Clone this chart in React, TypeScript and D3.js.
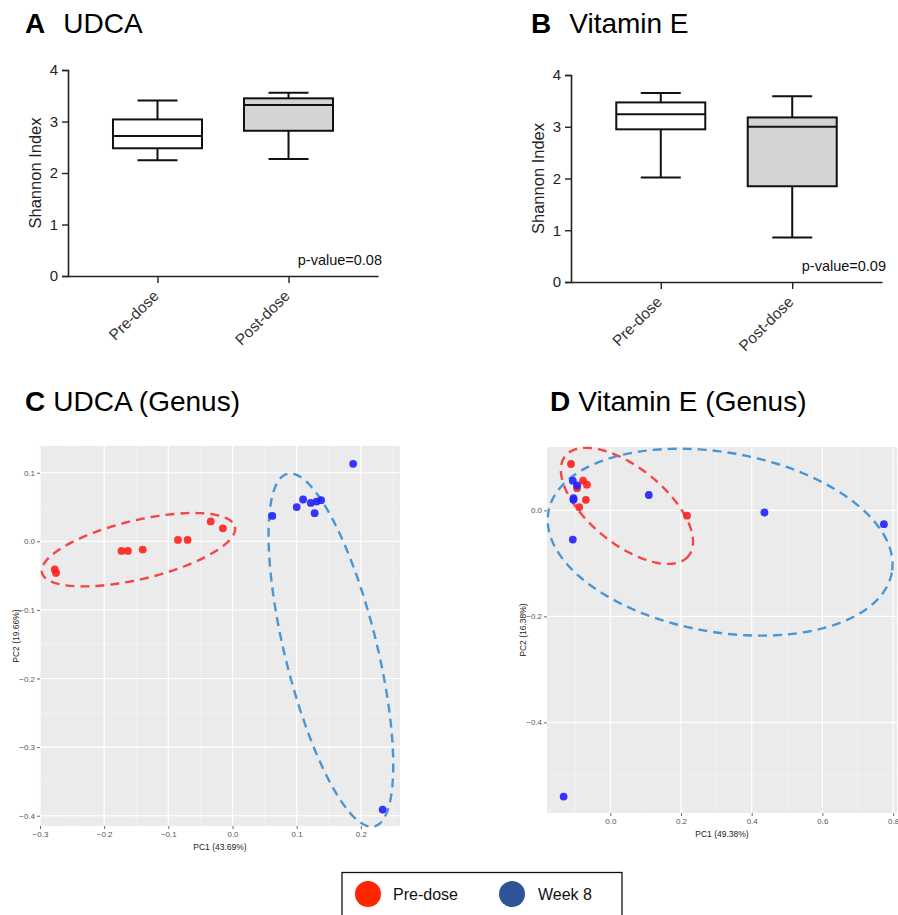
import React, { useEffect, useRef } from "react";
import * as d3 from "d3";

// box plot summaries: [min, q1, median, q3, max]
const boxGroups = ["Pre-dose", "Post-dose"];
const udcaBox = [
  [2.25, 2.48, 2.72, 3.04, 3.41],
  [2.27, 2.82, 3.32, 3.45, 3.56],
];
const vitEBox = [
  [2.02, 2.95, 3.24, 3.47, 3.65],
  [0.86, 1.85, 3.0, 3.18, 3.59],
];
const shannonTicks = [0, 1, 2, 3, 4];

// PCoA points [PC1, PC2]
const udcaPre = [
  [-0.277, -0.041], [-0.275, -0.046], [-0.173, -0.014], [-0.163, -0.014],
  [-0.14, -0.012], [-0.085, 0.002], [-0.07, 0.002], [-0.034, 0.029], [-0.015, 0.019],
];
const udcaWeek8 = [
  [0.062, 0.037], [0.1, 0.05], [0.11, 0.061], [0.122, 0.056], [0.128, 0.041],
  [0.131, 0.058], [0.138, 0.06], [0.188, 0.113], [0.234, -0.391],
];
const vitEPre = [
  [-0.111, 0.0875], [-0.077, 0.056], [-0.066, 0.0485], [-0.094, 0.042],
  [-0.069, 0.02], [-0.088, 0.006], [0.217, -0.01],
];
const vitEWeek8 = [
  [-0.106, 0.056], [-0.094, 0.047], [-0.104, 0.023], [-0.104, 0.02], [-0.106, -0.055],
  [0.109, 0.029], [0.436, -0.004], [0.774, -0.026], [-0.132, -0.54],
];

// ellipses: centre, two conjugate semi-axes (data units)
const udcaPreEllipse = { c: [-0.1466, -0.0122], u: [0.1503, 0.0335], v: [0.0106, -0.0417] };
const udcaWk8Ellipse = { c: [0.1533, -0.1585], u: [0.0678, -0.257], v: [0.0696, 0.0161] };
const vitEPreEllipse = { c: [0.0472, 0.0085], u: [0.1743, -0.0943], v: [-0.0676, -0.0557] };
const vitEWk8Ellipse = { c: [0.3107, -0.06], u: [0.4857, -0.0572], v: [-0.0441, -0.1668] };

const udcaXTicks = [-0.3, -0.2, -0.1, 0.0, 0.1, 0.2];
const udcaYTicks = [0.1, 0.0, -0.1, -0.2, -0.3, -0.4];
const vitEXTicks = [0.0, 0.2, 0.4, 0.6, 0.8];
const vitEYTicks = [0.0, -0.2, -0.4];

const FONT = "Arial, 'Liberation Sans', sans-serif";
const RED = "#ff2020";
const BLUE = "#2020ff";

const App = () => {
  const ref = useRef(null);

  useEffect(() => {
    const svg = d3.select(ref.current);
    svg.selectAll("*").remove();

    // titles
    const title = (x, y, letter, text, gap) => {
      const t = svg.append("text").attr("x", x).attr("y", y)
        .attr("font-family", FONT).attr("font-size", 28).attr("fill", "#000");
      t.append("tspan").attr("font-weight", "bold").text(letter);
      t.append("tspan").attr("dx", gap).text(text);
    };
    title(25, 33, "A", "UDCA", 18);
    title(531, 33, "B", "Vitamin E", 18);
    title(25, 411, "C", "UDCA (Genus)", 8);
    title(550, 411, "D", "Vitamin E (Genus)", 8);

    // box plots
    const boxPlot = (data, x0, x1, yTop, yBottom, pText) => {
      const g = svg.append("g");
      const x = d3.scalePoint().domain(boxGroups).range([x0, x1]).padding(0.683);
      const y = d3.scaleLinear().domain([0, 4]).range([yBottom, yTop]);

      const ya = g.append("g").attr("transform", `translate(${x0},0)`)
        .call(d3.axisLeft(y).tickValues(shannonTicks).tickFormat(d3.format("d")).tickSize(6).tickPadding(4));
      ya.select(".domain").attr("stroke", "#222").attr("stroke-width", 1.6);
      ya.selectAll(".tick line").attr("stroke", "#222").attr("stroke-width", 1.4);
      ya.selectAll("text").attr("font-family", FONT).attr("font-size", 15).attr("fill", "#222");

      const xa = g.append("g").attr("transform", `translate(0,${yBottom})`)
        .call(d3.axisBottom(x).tickSize(7).tickSizeOuter(0).tickPadding(4));
      xa.select(".domain").attr("stroke", "#222").attr("stroke-width", 1.6);
      xa.selectAll(".tick line").attr("stroke", "#222").attr("stroke-width", 1.4);
      xa.selectAll("text")
        .attr("font-family", FONT).attr("font-size", 15.5).attr("fill", "#333")
        .attr("text-anchor", "end").attr("x", 0).attr("y", 0).attr("dy", "0.35em")
        .attr("transform", "translate(-2,17) rotate(-45)");

      const bw = 89;
      const cap = 20;
      data.forEach((d, i) => {
        const cx = x(boxGroups[i]);
        const [mn, q1, md, q3, mx] = d;
        const bg = g.append("g").attr("stroke", "#111").attr("stroke-width", 2);
        bg.append("line").attr("x1", cx).attr("x2", cx).attr("y1", y(mx)).attr("y2", y(q3));
        bg.append("line").attr("x1", cx).attr("x2", cx).attr("y1", y(q1)).attr("y2", y(mn));
        bg.append("line").attr("x1", cx - cap).attr("x2", cx + cap).attr("y1", y(mx)).attr("y2", y(mx));
        bg.append("line").attr("x1", cx - cap).attr("x2", cx + cap).attr("y1", y(mn)).attr("y2", y(mn));
        bg.append("rect").attr("x", cx - bw / 2).attr("width", bw)
          .attr("y", y(q3)).attr("height", y(q1) - y(q3))
          .attr("fill", i === 0 ? "#fff" : "#d4d4d4");
        bg.append("line").attr("x1", cx - bw / 2).attr("x2", cx + bw / 2).attr("y1", y(md)).attr("y2", y(md));
      });

      g.append("text").attr("transform", `translate(${x0 - 27},${(yTop + yBottom) / 2}) rotate(-90)`)
        .attr("text-anchor", "middle").attr("font-family", FONT).attr("font-size", 16.5)
        .attr("fill", "#222").text("Shannon Index");

      g.append("text").attr("x", x1 + 4).attr("y", yBottom - 11).attr("text-anchor", "end")
        .attr("font-family", FONT).attr("font-size", 14.5).attr("fill", "#111").text(pText);
    };
    boxPlot(udcaBox, 68, 378, 70, 276, "p-value=0.08");
    boxPlot(vitEBox, 571, 882, 75, 282, "p-value=0.09");

    // PCoA panels
    const pcoa = (opts) => {
      const { xDom, yDom, left, right, top, bottom, xTicks, yTicks, pre, wk8, ePre, eWk8, xLab, yLab } = opts;
      const g = svg.append("g");
      const x = d3.scaleLinear().domain(xDom).range([left, right]);
      const y = d3.scaleLinear().domain(yDom).range([bottom, top]);

      g.append("rect").attr("x", left).attr("y", top).attr("width", right - left)
        .attr("height", bottom - top).attr("fill", "#ebebeb");

      const step = xTicks[1] - xTicks[0];
      const ystep = Math.abs(yTicks[1] - yTicks[0]);
      const minorX = d3.range(Math.ceil(xDom[0] / (step / 2)), Math.floor(xDom[1] / (step / 2)) + 1)
        .map((k) => (k * step) / 2);
      const minorY = d3.range(Math.ceil(yDom[0] / (ystep / 2)), Math.floor(yDom[1] / (ystep / 2)) + 1)
        .map((k) => (k * ystep) / 2);
      g.selectAll(".mx").data(minorX).join("line")
        .attr("x1", (d) => x(d)).attr("x2", (d) => x(d)).attr("y1", top).attr("y2", bottom)
        .attr("stroke", "#f5f5f5").attr("stroke-width", 0.6);
      g.selectAll(".my").data(minorY).join("line")
        .attr("y1", (d) => y(d)).attr("y2", (d) => y(d)).attr("x1", left).attr("x2", right)
        .attr("stroke", "#f5f5f5").attr("stroke-width", 0.6);
      g.selectAll(".gx").data(xTicks).join("line")
        .attr("x1", (d) => x(d)).attr("x2", (d) => x(d)).attr("y1", top).attr("y2", bottom)
        .attr("stroke", "#fff").attr("stroke-width", 1.1);
      g.selectAll(".gy").data(yTicks).join("line")
        .attr("y1", (d) => y(d)).attr("y2", (d) => y(d)).attr("x1", left).attr("x2", right)
        .attr("stroke", "#fff").attr("stroke-width", 1.1);

      const fmt = d3.format(".1f");
      const xa = g.append("g").attr("transform", `translate(0,${bottom})`)
        .call(d3.axisBottom(x).tickValues(xTicks).tickFormat(fmt).tickSize(3).tickPadding(2));
      const ya = g.append("g").attr("transform", `translate(${left},0)`)
        .call(d3.axisLeft(y).tickValues(yTicks).tickFormat(fmt).tickSize(3).tickPadding(2));
      [xa, ya].forEach((a) => {
        a.select(".domain").remove();
        a.selectAll(".tick line").attr("stroke", "#444").attr("stroke-width", 0.8);
        a.selectAll("text").attr("font-family", FONT).attr("font-size", 8).attr("fill", "#555");
      });

      const ang = d3.range(0, 2 * Math.PI + 0.001, Math.PI / 90);
      const line = d3.line().x((d) => x(d[0])).y((d) => y(d[1]));
      const ell = (e) => ang.map((t) => [
        e.c[0] + Math.cos(t) * e.u[0] + Math.sin(t) * e.v[0],
        e.c[1] + Math.cos(t) * e.u[1] + Math.sin(t) * e.v[1],
      ]);
      g.append("path").attr("d", line(ell(ePre))).attr("fill", "none")
        .attr("stroke", "#f44646").attr("stroke-width", 2.4).attr("stroke-dasharray", "9,6");
      g.append("path").attr("d", line(ell(eWk8))).attr("fill", "none")
        .attr("stroke", "#4a96d4").attr("stroke-width", 2.4).attr("stroke-dasharray", "9,6");

      g.selectAll(".pre").data(pre).join("circle")
        .attr("cx", (d) => x(d[0])).attr("cy", (d) => y(d[1])).attr("r", 3.9)
        .attr("fill", RED).attr("fill-opacity", 0.9);
      g.selectAll(".wk").data(wk8).join("circle")
        .attr("cx", (d) => x(d[0])).attr("cy", (d) => y(d[1])).attr("r", 3.9)
        .attr("fill", BLUE).attr("fill-opacity", 0.9);

      g.append("text").attr("x", (left + right) / 2).attr("y", bottom + 24).attr("text-anchor", "middle")
        .attr("font-family", FONT).attr("font-size", 8.5).attr("fill", "#222").text(xLab);
      g.append("text")
        .attr("transform", `translate(${left - 21},${(top + bottom) / 2}) rotate(-90)`)
        .attr("text-anchor", "middle").attr("font-family", FONT).attr("font-size", 8.5)
        .attr("fill", "#222").text(yLab);
    };

    pcoa({
      xDom: [-0.3, 0.261], yDom: [-0.415, 0.139], left: 40, right: 400, top: 446, bottom: 826,
      xTicks: udcaXTicks, yTicks: udcaYTicks, pre: udcaPre, wk8: udcaWeek8,
      ePre: udcaPreEllipse, eWk8: udcaWk8Ellipse, xLab: "PC1 (43.69%)", yLab: "PC2 (19.66%)",
    });
    pcoa({
      xDom: [-0.179, 0.811], yDom: [-0.571, 0.1196], left: 547, right: 897, top: 447, bottom: 813,
      xTicks: vitEXTicks, yTicks: vitEYTicks, pre: vitEPre, wk8: vitEWeek8,
      ePre: vitEPreEllipse, eWk8: vitEWk8Ellipse, xLab: "PC1 (49.38%)", yLab: "PC2 (16.38%)",
    });

    // legend
    const lg = svg.append("g");
    lg.append("rect").attr("x", 342).attr("y", 872.5).attr("width", 280).attr("height", 50)
      .attr("fill", "#fff").attr("stroke", "#111").attr("stroke-width", 1.3);
    lg.append("circle").attr("cx", 368).attr("cy", 894).attr("r", 13).attr("fill", "#ff2600");
    lg.append("text").attr("x", 393).attr("y", 900).attr("font-family", FONT).attr("font-size", 16)
      .attr("fill", "#111").text("Pre-dose");
    lg.append("circle").attr("cx", 512).attr("cy", 894).attr("r", 13).attr("fill", "#2e5597");
    lg.append("text").attr("x", 538).attr("y", 900).attr("font-family", FONT).attr("font-size", 16)
      .attr("fill", "#111").text("Week 8");
  }, []);

  return (
    <svg
      ref={ref}
      width={898}
      height={915}
      style={{ position: "absolute", left: 0, top: 0, background: "#fff" }}
    />
  );
};

export default App;
